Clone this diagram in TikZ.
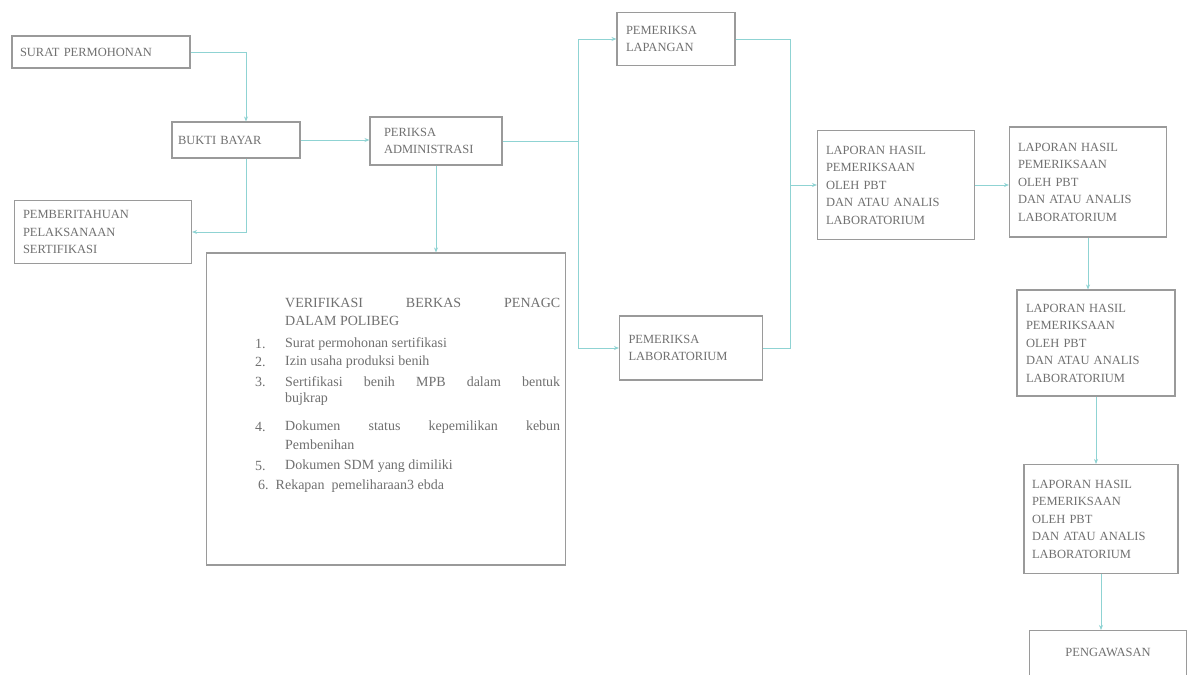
\documentclass[tikz,border=0pt]{standalone}
\usepackage{fontspec}
\setmainfont{Liberation Serif}
\usetikzlibrary{calc,arrows.meta}
\definecolor{boxgray}{HTML}{9A9A9A}
\definecolor{txtgray}{HTML}{707070}
\definecolor{conn}{HTML}{8FD3D3}
\tikzset{
  box/.style={draw=boxgray, line width=1.1pt, fill=white, inner sep=0pt,
    font=\fontsize{12.5}{17.5}\selectfont, text=txtgray, align=left},
  arr/.style={draw=conn, line width=0.9pt, -{Stealth[length=5pt,width=4pt]}},
  ln/.style={draw=conn, line width=0.9pt},
  listtxt/.style={anchor=west, inner sep=0pt, text=txtgray, font=\fontsize{14}{16}\selectfont}
}
\begin{document}
\begin{tikzpicture}[x=1pt,y=-1pt]
\useasboundingbox[fill=white] (0,0) rectangle (1198,674);

\node[box, minimum width=178pt, minimum height=32pt, text width=162pt] (surat) at (101,52) {SURAT PERMOHONAN};
\node[box, minimum width=128pt, minimum height=36pt, text width=116pt] (buku) at (236,140) {BUKTI BAYAR};
\node[box, minimum width=132pt, minimum height=48pt, text width=116pt, align=left] (periksa) at (436,141) {\hspace*{6pt}PERIKSA\\\hspace*{6pt}ADMINISTRASI};
\node[box, minimum width=177pt, minimum height=63pt, text width=160pt] (pemb) at (103,232) {PEMBERITAHUAN\\PELAKSANAAN\\SERTIFIKASI};
\node[box, minimum width=359pt, minimum height=312pt] (big) at (386,409) {};
\node[box, minimum width=118pt, minimum height=53pt, text width=100pt] (lapangan) at (676,39) {PEMERIKSA\\LAPANGAN};
\node[box, minimum width=143pt, minimum height=64pt, text width=125pt] (lab) at (691,348) {PEMERIKSA\\LABORATORIUM};
\node[box, minimum width=157pt, minimum height=109pt, text width=140pt] (lap1) at (896,185) {LAPORAN HASIL\\PEMERIKSAAN\\OLEH PBT\\DAN ATAU ANALIS\\LABORATORIUM};
\node[box, minimum width=157pt, minimum height=110pt, text width=140pt] (lap2) at (1088,182) {LAPORAN HASIL\\PEMERIKSAAN\\OLEH PBT\\DAN ATAU ANALIS\\LABORATORIUM};
\node[box, minimum width=158pt, minimum height=106pt, text width=140pt] (lap3) at (1096,343) {LAPORAN HASIL\\PEMERIKSAAN\\OLEH PBT\\DAN ATAU ANALIS\\LABORATORIUM};
\node[box, minimum width=154pt, minimum height=109pt, text width=138pt] (lap4) at (1101,519) {LAPORAN HASIL\\PEMERIKSAAN\\OLEH PBT\\DAN ATAU ANALIS\\LABORATORIUM};
\node[box, minimum width=157pt, minimum height=50pt, align=center, anchor=north] (peng) at (1108,630) {\raisebox{6pt}{PENGAWASAN}};

% big box text
\node[listtxt] (h1) at (285,303) {\makebox[275pt][s]{VERIFIKASI BERKAS PENAGC}};
\node[listtxt] (h2) at (285,321) {DALAM POLIBEG};
\node[listtxt] (n1) at (255,344) {1.};
\node[listtxt] (t1) at (285,344) {Surat permohonan sertifikasi};
\node[listtxt] (n2) at (255,362) {2.};
\node[listtxt] (t2) at (285,362) {Izin usaha produksi benih};
\node[listtxt] (n3) at (255,382) {3.};
\node[listtxt] (t3) at (285,382) {\makebox[275pt][s]{Sertifikasi benih MPB dalam bentuk}};
\node[listtxt] (t3b) at (285,399) {bujkrap};
\node[listtxt] (n4) at (255,427) {4.};
\node[listtxt] (t4) at (285,427) {\makebox[275pt][s]{Dokumen status kepemilikan kebun}};
\node[listtxt] (t4b) at (285,445) {Pembenihan};
\node[listtxt] (n5) at (255,466) {5.};
\node[listtxt] (t5) at (285,466) {Dokumen SDM yang dimiliki};
\node[listtxt] (t6) at (258,486) {6.\ \ Rekapan \ pemeliharaan3 ebda};

% connectors
\draw[arr] (surat.east) -| ($(buku.north)+(10,0)$);
\draw[arr] (buku.east) -- (periksa.west |- buku.east);
\draw[arr] ($(buku.south)+(10,0)$) |- (pemb.east);
\draw[arr] (periksa.south) -- (periksa.south |- big.north);
\coordinate (j1) at (578,141);
\draw[ln] (periksa.east) -- (j1);
\draw[arr] (j1) |- (lapangan.west);
\draw[arr] (j1) |- (lab.west);
\coordinate (j2) at (790,185);
\draw[ln] (lapangan.east) -| (j2);
\draw[ln] (lab.east) -| (j2);
\draw[arr] (j2) -- (lap1.west);
\draw[arr] (lap1.east) -- (lap2.west |- lap1.east);
\draw[arr] (lap2.south) -- (lap2.south |- lap3.north);
\draw[arr] (lap3.south) -- (lap3.south |- lap4.north);
\draw[arr] (lap4.south) -- (lap4.south |- peng.north);
\end{tikzpicture}
\end{document}
